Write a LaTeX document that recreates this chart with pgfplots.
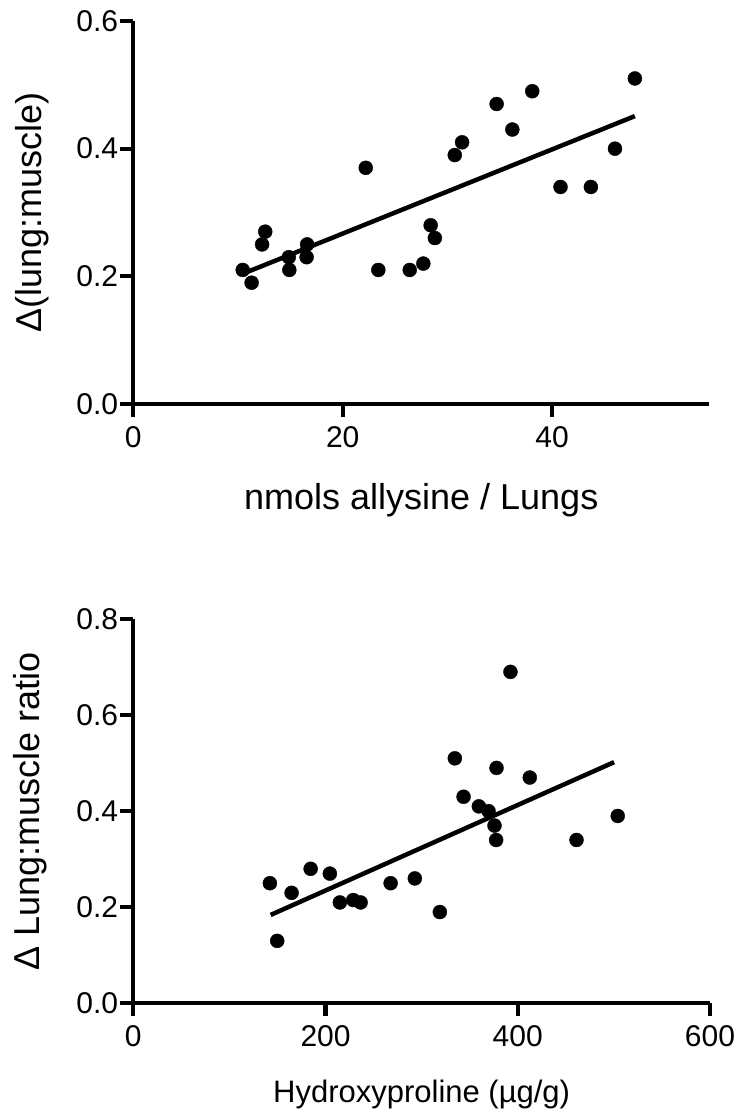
\documentclass[border=0pt]{standalone}
\usepackage{fontspec}
\setmainfont{Liberation Sans}
\usepackage{pgfplots}
\pgfplotsset{compat=1.18}

\pgfplotsset{
  prism/.style={
    scale only axis,
    axis lines=left,
    axis line style={-, line width=4.3pt},
    tick align=outside,
    major tick length=13pt,
    tick style={line width=4.3pt, black},
    xtick pos=bottom, ytick pos=left,
    /pgf/number format/assume math mode=true,
    ticklabel style={font=\fontsize{30}{30}\selectfont, inner sep=0pt},
    xticklabel shift=9.5pt,
    yticklabel shift=2pt,
    yticklabel style={/pgf/number format/.cd, fixed, fixed zerofill, precision=1},
    ylabel style={anchor=center, font=\fontsize{36}{36}\selectfont},
  },
  dots/.style={only marks, mark=*, mark size=7pt, black},
  fit/.style={no marks, black, line width=4.5pt},
}

\begin{document}
\begin{tikzpicture}
\useasboundingbox (0,0) rectangle (739pt,-1115pt);

% top panel
\begin{axis}[prism, at={(133.3pt,-404pt)}, anchor=south west,
  width=575.9pt, height=383pt,
  xmin=0, xmax=55, ymin=0, ymax=0.6,
  xtick={0,20,40}, ytick={0,0.2,0.4,0.6},
  xlabel={nmols allysine / Lungs},
  xlabel style={at={(axis description cs:0.5,0)}, anchor=base, yshift=-105pt,
    font=\fontsize{36}{36}\selectfont},
  ylabel={Δ(lung:muscle)},
  ylabel style={at={(axis description cs:-0.175,0.5)}}]
\addplot[dots] coordinates {
  (10.45,0.21) (11.3,0.19) (12.6,0.27) (12.3,0.25) (14.85,0.23) (14.9,0.21)
  (16.6,0.25) (16.55,0.23) (22.2,0.37) (23.4,0.21) (26.4,0.21) (27.7,0.22)
  (28.4,0.28) (28.8,0.26) (30.7,0.39) (31.4,0.41) (34.7,0.47) (36.2,0.43)
  (38.1,0.49) (40.8,0.34) (43.7,0.34) (46.0,0.40) (47.9,0.51)};
\addplot[fit] coordinates {(10.45,0.204) (47.9,0.451)};
\end{axis}

% bottom panel
\begin{axis}[prism, at={(133.3pt,-1003.3pt)}, anchor=south west,
  width=576.7pt, height=384.3pt,
  xmin=0, xmax=600, ymin=0, ymax=0.8,
  xtick={0,200,400,600}, ytick={0,0.2,0.4,0.6,0.8},
  xlabel={Hydroxyproline (µg/g)},
  xlabel style={at={(axis description cs:0.5,0)}, anchor=base, yshift=-98.7pt,
    font=\fontsize{31}{31}\selectfont},
  ylabel={Δ Lung:muscle ratio},
  ylabel style={at={(axis description cs:-0.178,0.5)}}]
\addplot[dots] coordinates {
  (392.4,0.69) (334.5,0.51) (377.9,0.49) (412.5,0.47) (343.6,0.43) (359.5,0.41)
  (369.6,0.40) (375.8,0.37) (377.5,0.34) (461.1,0.34) (504.0,0.39) (142.1,0.25)
  (164.7,0.23) (184.5,0.28) (204.5,0.27) (267.7,0.25) (292.9,0.26) (214.9,0.21)
  (228.8,0.215) (236.5,0.21) (149.7,0.13) (318.9,0.19)};
\addplot[fit] coordinates {(142.9,0.184) (500.2,0.502)};
\end{axis}
\end{tikzpicture}
\end{document}
